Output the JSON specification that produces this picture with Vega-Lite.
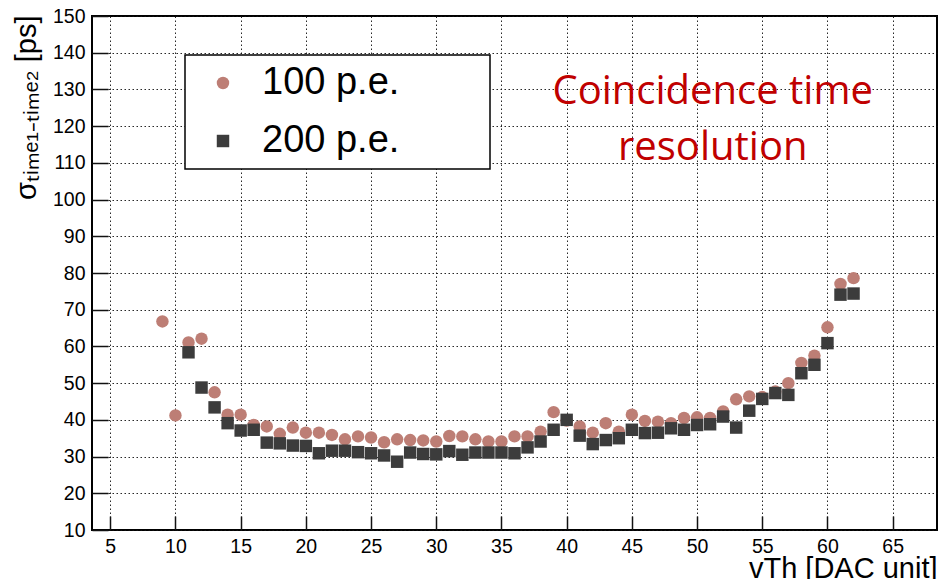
{
  "$schema": "https://vega.github.io/schema/vega-lite/v6.json",
  "width": 845,
  "height": 514,
  "autosize": {"type": "none"},
  "padding": {"left": 92, "top": 16, "right": 13, "bottom": 49},
  "background": "white",
  "config": {
    "font": "Liberation Sans",
    "view": {"stroke": "black", "strokeWidth": 2},
    "axis": {
      "domain": false,
      "grid": true,
      "gridColor": "#111111",
      "gridDash": [1.5, 2.5],
      "gridWidth": 1,
      "gridOpacity": 0.9,
      "tickColor": "#111111",
      "tickWidth": 1.5,
      "labelFont": "Liberation Sans",
      "labelFontSize": 19.5,
      "labelColor": "black",
      "labelOverlap": false,
      "titleFont": "Liberation Sans",
      "titleFontWeight": "normal",
      "titleColor": "black"
    },
    "legend": {
      "orient": "none",
      "legendX": 93,
      "legendY": 39,
      "fillColor": "white",
      "strokeColor": "black",
      "strokeWidth": 1.5,
      "padding": 9,
      "symbolOffset": 10,
      "labelOffset": 20,
      "rowPadding": 20,
      "labelFont": "Liberation Sans",
      "labelFontSize": 38,
      "labelColor": "black",
      "labelLimit": 600,
      "symbolSize": 155,
      "symbolStrokeWidth": 0
    }
  },
  "data": {
    "values": [
      {"vth": 9, "sigma": 66.8, "pe": "100 p.e."},
      {"vth": 10, "sigma": 41.2, "pe": "100 p.e."},
      {"vth": 11, "sigma": 61.1, "pe": "100 p.e."},
      {"vth": 12, "sigma": 62.1, "pe": "100 p.e."},
      {"vth": 13, "sigma": 47.5, "pe": "100 p.e."},
      {"vth": 14, "sigma": 41.4, "pe": "100 p.e."},
      {"vth": 15, "sigma": 41.4, "pe": "100 p.e."},
      {"vth": 16, "sigma": 38.6, "pe": "100 p.e."},
      {"vth": 17, "sigma": 38.2, "pe": "100 p.e."},
      {"vth": 18, "sigma": 36.2, "pe": "100 p.e."},
      {"vth": 19, "sigma": 37.9, "pe": "100 p.e."},
      {"vth": 20, "sigma": 36.5, "pe": "100 p.e."},
      {"vth": 21, "sigma": 36.5, "pe": "100 p.e."},
      {"vth": 22, "sigma": 35.9, "pe": "100 p.e."},
      {"vth": 23, "sigma": 34.7, "pe": "100 p.e."},
      {"vth": 24, "sigma": 35.5, "pe": "100 p.e."},
      {"vth": 25, "sigma": 35.2, "pe": "100 p.e."},
      {"vth": 26, "sigma": 33.9, "pe": "100 p.e."},
      {"vth": 27, "sigma": 34.7, "pe": "100 p.e."},
      {"vth": 28, "sigma": 34.5, "pe": "100 p.e."},
      {"vth": 29, "sigma": 34.4, "pe": "100 p.e."},
      {"vth": 30, "sigma": 34.1, "pe": "100 p.e."},
      {"vth": 31, "sigma": 35.6, "pe": "100 p.e."},
      {"vth": 32, "sigma": 35.5, "pe": "100 p.e."},
      {"vth": 33, "sigma": 34.7, "pe": "100 p.e."},
      {"vth": 34, "sigma": 34.1, "pe": "100 p.e."},
      {"vth": 35, "sigma": 34.1, "pe": "100 p.e."},
      {"vth": 36, "sigma": 35.5, "pe": "100 p.e."},
      {"vth": 37, "sigma": 35.5, "pe": "100 p.e."},
      {"vth": 38, "sigma": 36.8, "pe": "100 p.e."},
      {"vth": 39, "sigma": 42.1, "pe": "100 p.e."},
      {"vth": 40, "sigma": 39.8, "pe": "100 p.e."},
      {"vth": 41, "sigma": 38.2, "pe": "100 p.e."},
      {"vth": 42, "sigma": 36.5, "pe": "100 p.e."},
      {"vth": 43, "sigma": 39.1, "pe": "100 p.e."},
      {"vth": 44, "sigma": 36.8, "pe": "100 p.e."},
      {"vth": 45, "sigma": 41.4, "pe": "100 p.e."},
      {"vth": 46, "sigma": 39.7, "pe": "100 p.e."},
      {"vth": 47, "sigma": 39.5, "pe": "100 p.e."},
      {"vth": 48, "sigma": 39.1, "pe": "100 p.e."},
      {"vth": 49, "sigma": 40.5, "pe": "100 p.e."},
      {"vth": 50, "sigma": 40.7, "pe": "100 p.e."},
      {"vth": 51, "sigma": 40.5, "pe": "100 p.e."},
      {"vth": 52, "sigma": 42.3, "pe": "100 p.e."},
      {"vth": 53, "sigma": 45.6, "pe": "100 p.e."},
      {"vth": 54, "sigma": 46.4, "pe": "100 p.e."},
      {"vth": 55, "sigma": 46.2, "pe": "100 p.e."},
      {"vth": 56, "sigma": 47.7, "pe": "100 p.e."},
      {"vth": 57, "sigma": 50.0, "pe": "100 p.e."},
      {"vth": 58, "sigma": 55.5, "pe": "100 p.e."},
      {"vth": 59, "sigma": 57.5, "pe": "100 p.e."},
      {"vth": 60, "sigma": 65.2, "pe": "100 p.e."},
      {"vth": 61, "sigma": 77.0, "pe": "100 p.e."},
      {"vth": 62, "sigma": 78.6, "pe": "100 p.e."},
      {"vth": 11, "sigma": 58.4, "pe": "200 p.e."},
      {"vth": 12, "sigma": 48.8, "pe": "200 p.e."},
      {"vth": 13, "sigma": 43.4, "pe": "200 p.e."},
      {"vth": 14, "sigma": 39.1, "pe": "200 p.e."},
      {"vth": 15, "sigma": 37.1, "pe": "200 p.e."},
      {"vth": 16, "sigma": 37.3, "pe": "200 p.e."},
      {"vth": 17, "sigma": 33.8, "pe": "200 p.e."},
      {"vth": 18, "sigma": 33.6, "pe": "200 p.e."},
      {"vth": 19, "sigma": 33.0, "pe": "200 p.e."},
      {"vth": 20, "sigma": 32.9, "pe": "200 p.e."},
      {"vth": 21, "sigma": 30.9, "pe": "200 p.e."},
      {"vth": 22, "sigma": 31.6, "pe": "200 p.e."},
      {"vth": 23, "sigma": 31.6, "pe": "200 p.e."},
      {"vth": 24, "sigma": 31.2, "pe": "200 p.e."},
      {"vth": 25, "sigma": 30.9, "pe": "200 p.e."},
      {"vth": 26, "sigma": 30.3, "pe": "200 p.e."},
      {"vth": 27, "sigma": 28.6, "pe": "200 p.e."},
      {"vth": 28, "sigma": 31.1, "pe": "200 p.e."},
      {"vth": 29, "sigma": 30.7, "pe": "200 p.e."},
      {"vth": 30, "sigma": 30.6, "pe": "200 p.e."},
      {"vth": 31, "sigma": 31.5, "pe": "200 p.e."},
      {"vth": 32, "sigma": 30.5, "pe": "200 p.e."},
      {"vth": 33, "sigma": 31.1, "pe": "200 p.e."},
      {"vth": 34, "sigma": 31.1, "pe": "200 p.e."},
      {"vth": 35, "sigma": 31.1, "pe": "200 p.e."},
      {"vth": 36, "sigma": 30.9, "pe": "200 p.e."},
      {"vth": 37, "sigma": 32.5, "pe": "200 p.e."},
      {"vth": 38, "sigma": 34.1, "pe": "200 p.e."},
      {"vth": 39, "sigma": 37.3, "pe": "200 p.e."},
      {"vth": 40, "sigma": 40.0, "pe": "200 p.e."},
      {"vth": 41, "sigma": 35.7, "pe": "200 p.e."},
      {"vth": 42, "sigma": 33.4, "pe": "200 p.e."},
      {"vth": 43, "sigma": 34.5, "pe": "200 p.e."},
      {"vth": 44, "sigma": 35.0, "pe": "200 p.e."},
      {"vth": 45, "sigma": 37.3, "pe": "200 p.e."},
      {"vth": 46, "sigma": 36.4, "pe": "200 p.e."},
      {"vth": 47, "sigma": 36.5, "pe": "200 p.e."},
      {"vth": 48, "sigma": 37.7, "pe": "200 p.e."},
      {"vth": 49, "sigma": 37.3, "pe": "200 p.e."},
      {"vth": 50, "sigma": 38.6, "pe": "200 p.e."},
      {"vth": 51, "sigma": 38.8, "pe": "200 p.e."},
      {"vth": 52, "sigma": 40.9, "pe": "200 p.e."},
      {"vth": 53, "sigma": 37.9, "pe": "200 p.e."},
      {"vth": 54, "sigma": 42.5, "pe": "200 p.e."},
      {"vth": 55, "sigma": 45.7, "pe": "200 p.e."},
      {"vth": 56, "sigma": 47.3, "pe": "200 p.e."},
      {"vth": 57, "sigma": 46.8, "pe": "200 p.e."},
      {"vth": 58, "sigma": 52.7, "pe": "200 p.e."},
      {"vth": 59, "sigma": 55.0, "pe": "200 p.e."},
      {"vth": 60, "sigma": 60.9, "pe": "200 p.e."},
      {"vth": 61, "sigma": 74.1, "pe": "200 p.e."},
      {"vth": 62, "sigma": 74.4, "pe": "200 p.e."}
    ]
  },
  "layer": [
    {
      "mark": {"type": "point", "filled": true, "opacity": 1, "size": 155, "strokeWidth": 0},
      "encoding": {
        "x": {
          "field": "vth",
          "type": "quantitative",
          "scale": {"domain": [3.6, 68.4], "nice": false, "zero": false},
          "axis": {
            "values": [5, 10, 15, 20, 25, 30, 35, 40, 45, 50, 55, 60, 65],
            "tickSize": -14,
            "labelPadding": 21,
            "labelOverlap": false,
            "title": "vTh [DAC unit]",
            "titleFontSize": 29,
            "titleAlign": "right",
            "titleBaseline": "alphabetic",
            "titleX": 845,
            "titleY": 47
          }
        },
        "y": {
          "field": "sigma",
          "type": "quantitative",
          "scale": {"domain": [10, 150], "nice": false, "zero": false},
          "axis": {
            "tickCount": 14,
            "tickSize": -16,
            "labelPadding": 23,
            "labelOverlap": false,
            "labelFlush": false,
            "title": "σₜᵢₘₑ₁₋ₜᵢₘₑ₂ [ps]",
            "titleFontSize": 29,
            "titleAngle": 270,
            "titleAlign": "right",
            "titleBaseline": "alphabetic",
            "titleX": -57,
            "titleY": -1
          }
        },
        "color": {
          "field": "pe",
          "type": "nominal",
          "scale": {"domain": ["100 p.e.", "200 p.e."], "range": ["#bd7e75", "#3c3c3c"]},
          "legend": {
            "title": null,
            "labelExpr": "datum.label + '\u00a0\u00a0\u00a0\u00a0\u00a0\u00a0\u00a0\u2009\u200b'"
          }
        },
        "shape": {
          "field": "pe",
          "type": "nominal",
          "scale": {"domain": ["100 p.e.", "200 p.e."], "range": ["circle", "square"]},
          "legend": {
            "title": null,
            "labelExpr": "datum.label + '\u00a0\u00a0\u00a0\u00a0\u00a0\u00a0\u00a0\u2009\u200b'"
          }
        }
      }
    },
    {
      "data": {"values": [{"note": "Coincidence time resolution"}]},
      "mark": {
        "type": "text",
        "font": "Open Sans",
        "fontSize": 40,
        "fontWeight": "normal",
        "fill": "#c00000",
        "align": "center",
        "baseline": "alphabetic",
        "lineHeight": 56
      },
      "encoding": {
        "x": {"datum": 51.2},
        "y": {"datum": 126},
        "text": {"value": ["Coincidence time", "resolution"]}
      }
    }
  ]
}
